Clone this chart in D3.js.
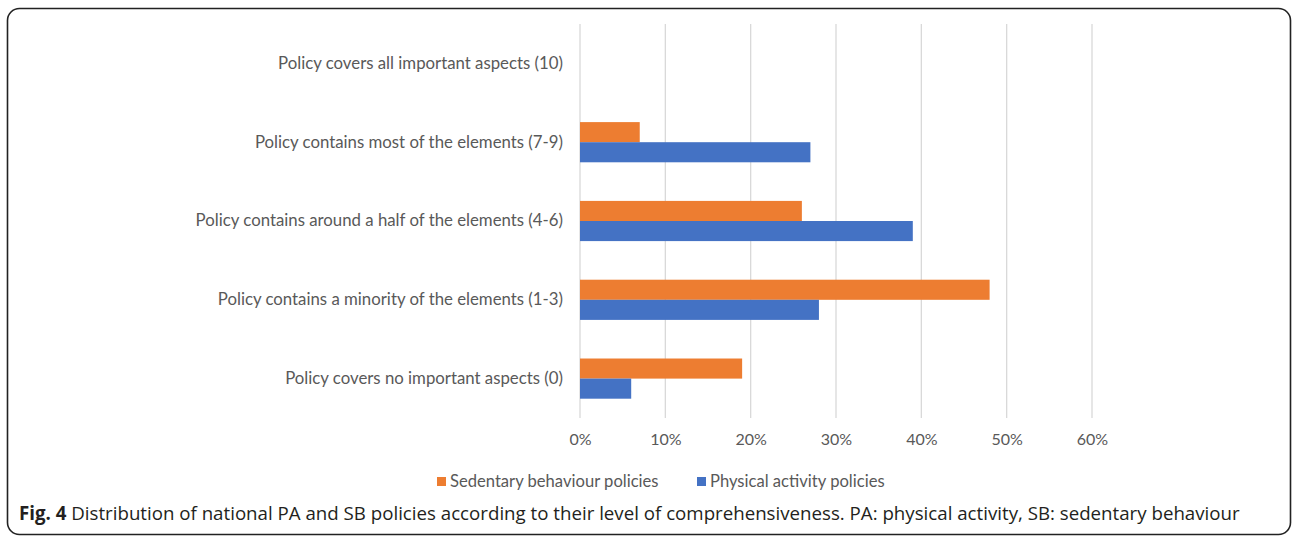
<!DOCTYPE html>
<html><head><meta charset="utf-8">
<script src="https://cdn.jsdelivr.net/npm/d3@7"></script>
<style>body{margin:0;background:#fff}svg{display:block}</style>
</head><body>
<svg id="c" width="1292" height="536"></svg>
<script>
const categories = [
  "Policy covers all important aspects (10)",
  "Policy contains most of the elements (7-9)",
  "Policy contains around a half of the elements (4-6)",
  "Policy contains a minority of the elements (1-3)",
  "Policy covers no important aspects (0)"
];
const seriesNames = ["Sedentary behaviour policies", "Physical activity policies"];
const sedentaryValues = [0, 7, 26, 48, 19];
const physicalValues = [0, 27, 39, 28, 6];
const tickValues = [0, 10, 20, 30, 40, 50, 60];
const colors = ["#ED7D31", "#4472C4"];

const svg = d3.select("#c");
// frame
svg.append("rect").attr("x", 7.5).attr("y", 8.5).attr("width", 1283).attr("height", 526)
  .attr("rx", 12).attr("fill", "none").attr("stroke", "#222").attr("stroke-width", 1.6);

const x = d3.scaleLinear().domain([0, 60]).range([580, 1092]);
const y = d3.scaleBand().domain(categories).range([24, 418]).paddingInner(0.49).paddingOuter(0.245);
const sub = d3.scaleBand().domain(seriesNames).range([0, y.bandwidth()]);

// gridlines
svg.append("g").selectAll("line").data(tickValues).join("line")
  .attr("x1", d => x(d)).attr("x2", d => x(d)).attr("y1", 24).attr("y2", 418)
  .attr("stroke", "#d9d9d9").attr("stroke-width", 1.3);

const data = [sedentaryValues, physicalValues];
seriesNames.forEach((s, i) => {
  svg.append("g").selectAll("rect").data(categories).join("rect")
    .attr("x", x(0))
    .attr("y", c => y(c) + sub(s))
    .attr("width", (c, j) => x(data[i][j]) - x(0))
    .attr("height", sub.bandwidth())
    .attr("fill", colors[i]);
});

const font = "Lato, 'Open Sans', sans-serif";
// x axis
const xa = d3.axisBottom(x).tickValues(tickValues).tickFormat(d => d + "%").tickSize(0).tickPadding(0);
const gx = svg.append("g").attr("transform", "translate(0,434)").call(xa);
gx.select(".domain").remove();
gx.selectAll("text").attr("dy", "0.71em").attr("fill", "#595959").style("font", "16px " + font);

// y axis
const ya = d3.axisLeft(y).tickSize(0).tickPadding(17);
const gy = svg.append("g").attr("transform", "translate(580,0)").call(ya);
gy.select(".domain").remove();
gy.selectAll("text").attr("fill", "#595959").style("font", "16.8px " + font);

// legend
const legX = [437, 697];
seriesNames.forEach((s, i) => {
  const g = svg.append("g").attr("transform", `translate(${legX[i]},477)`);
  g.append("rect").attr("width", 9).attr("height", 9).attr("fill", colors[i]);
  g.append("text").attr("x", 13).attr("y", 4.5).attr("dy", "0.35em").attr("fill", "#595959")
    .style("font", "16.6px " + font).text(s);
});

// caption
const cap = svg.append("text").attr("x", 19).attr("y", 520).attr("fill", "#231f20")
  .style("font", "18.7px 'Open Sans', sans-serif");
cap.append("tspan").attr("font-weight", "bold").text("Fig. 4");
cap.append("tspan").text(" Distribution of national PA and SB policies according to their level of comprehensiveness. PA: physical activity, SB: sedentary behaviour");
</script>
</body></html>
